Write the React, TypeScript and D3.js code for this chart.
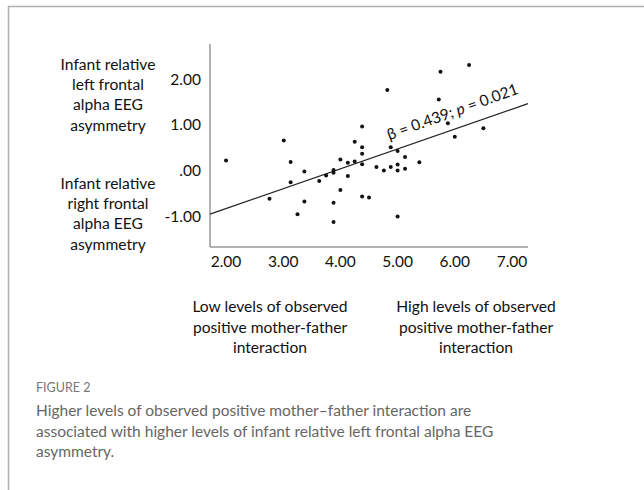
import { useEffect, useRef } from "react";
import * as d3 from "d3";

// observed positive mother-father interaction (x) vs infant frontal alpha asymmetry (y)
const interaction = [
  2.0, 2.76, 3.01, 3.13, 3.13, 3.25, 3.37, 3.37, 3.63, 3.75, 3.88, 3.88, 3.88, 3.88,
  4.0, 4.0, 4.13, 4.13, 4.25, 4.25, 4.38, 4.38, 4.38, 4.38, 4.38, 4.5, 4.63, 4.76,
  4.82, 4.88, 4.88, 5.0, 5.0, 5.0, 5.0, 5.13, 5.13, 5.38, 5.72, 5.75, 5.88, 6.0,
  6.25, 6.5,
];
const asymmetry = [
  0.23, -0.61, 0.67, 0.2, -0.25, -0.95, -0.01, -0.67, -0.22, -0.1, 0.02, -0.04, -0.7, -1.12,
  0.25, -0.42, -0.11, 0.18, 0.64, 0.21, 0.98, 0.52, 0.38, 0.15, -0.56, -0.58, 0.09, 0.01,
  1.78, 0.09, 0.52, 0.44, 0.14, 0.01, -1.0, 0.31, 0.05, 0.19, 1.57, 2.18, 1.05, 0.75,
  2.33, 0.94,
];
const xTicks = [2, 3, 4, 5, 6, 7];
const yTicks = [2, 1, 0, -1];
const fitIntercept = -1.7;
const fitSlope = 0.437;
const topLabel = ["Infant relative", "left frontal", "alpha EEG", "asymmetry"];
const bottomLabel = ["Infant relative", "right frontal", "alpha EEG", "asymmetry"];
const lowLabel = ["Low levels of observed", "positive mother-father", "interaction"];
const highLabel = ["High levels of observed", "positive mother-father", "interaction"];
const captionLines = [
  "Higher levels of observed positive mother\u2013father interaction are",
  "associated with higher levels of infant relative left frontal alpha EEG",
  "asymmetry.",
];

const App = () => {
  const svgRef = useRef<SVGSVGElement>(null);

  useEffect(() => {
    const svg = d3.select(svgRef.current);
    svg.selectAll("*").remove();
    const font = "Lato, 'Open Sans', sans-serif";

    const x = d3.scaleLinear().domain([1.72, 7.28]).range([210, 528]);
    const y = d3.scaleLinear().domain([-1.67, 2.79]).range([247, 44]);

    // frame
    svg.append("path").attr("d", "M8.5,490 V6.5 H644").attr("fill", "none").attr("stroke", "#b0b0b0").attr("stroke-width", 1.5);

    // axes
    const g = svg.append("g");
    g.append("line").attr("x1", x(1.72)).attr("x2", x(1.72)).attr("y1", y(2.79)).attr("y2", y(-1.67)).attr("stroke", "#999").attr("stroke-width", 1.5);
    g.append("line").attr("x1", x(1.72)).attr("x2", x(7.28)).attr("y1", y(-1.67)).attr("y2", y(-1.67)).attr("stroke", "#999").attr("stroke-width", 1.5);

    g.selectAll(".xt").data(xTicks).enter().append("text").attr("class", "xt")
      .attr("x", (d) => x(d)).attr("y", 267).attr("text-anchor", "middle")
      .style("font-family", font).style("font-size", "15.5px").attr("fill", "#111")
      .text((d) => d.toFixed(2));
    g.selectAll(".yt").data(yTicks).enter().append("text").attr("class", "yt")
      .attr("x", 201).attr("y", (d) => y(d) + 5).attr("text-anchor", "end")
      .style("font-family", font).style("font-size", "15.5px").attr("fill", "#111")
      .text((d) => (d === 0 ? ".00" : d.toFixed(2)));

    // regression line
    const [x0, x1] = x.domain();
    g.append("line")
      .attr("x1", x(x0)).attr("y1", y(fitIntercept + fitSlope * x0))
      .attr("x2", x(x1)).attr("y2", y(fitIntercept + fitSlope * x1))
      .attr("stroke", "#222").attr("stroke-width", 1.2);

    const angle = (Math.atan2(y(fitIntercept + fitSlope * x1) - y(fitIntercept + fitSlope * x0), x(x1) - x(x0)) * 180) / Math.PI;
    const ax = 4.92;
    const note = g.append("text")
      .attr("transform", `translate(${x(ax)},${y(fitIntercept + fitSlope * ax)}) rotate(${angle - 0.6})`)
      .attr("dy", -11)
      .style("font-family", font).style("font-size", "15.5px").attr("fill", "#111");
    note.append("tspan").text("\u03B2 = 0.439; ");
    note.append("tspan").style("font-style", "italic").text("p");
    note.append("tspan").text(" = 0.021");

    // points
    g.selectAll(".pt").data(interaction).enter().append("circle").attr("class", "pt")
      .attr("cx", (d) => x(d)).attr("cy", (d, i) => y(asymmetry[i])).attr("r", 2).attr("fill", "#111");

    // side labels
    const addBlock = (lines: string[], cx: number, top: number, step: number) => {
      svg.append("g").selectAll("text").data(lines).enter().append("text")
        .attr("x", cx).attr("y", (d, i) => top + i * step).attr("text-anchor", "middle")
        .style("font-family", font).style("font-size", "15.6px").attr("fill", "#111")
        .text((d) => d);
    };
    addBlock(topLabel, 108, 70, 20.2);
    addBlock(bottomLabel, 108, 189, 20.2);
    addBlock(lowLabel, 270, 312, 20.5);
    addBlock(highLabel, 476, 312, 20.5);

    // caption
    svg.append("text").attr("x", 36).attr("y", 392)
      .style("font-family", font).style("font-size", "12.5px").attr("fill", "#777")
      .text("FIGURE 2");
    svg.append("g").selectAll("text").data(captionLines).enter().append("text")
      .attr("x", 36).attr("y", (d, i) => 416 + i * 20.5)
      .style("font-family", font).style("font-size", "15.5px").attr("fill", "#666")
      .text((d) => d);
  }, []);

  return (
    <svg ref={svgRef} width={644} height={490} style={{ position: "absolute", left: 0, top: 0, background: "#fff" }} />
  );
};

export default App;
